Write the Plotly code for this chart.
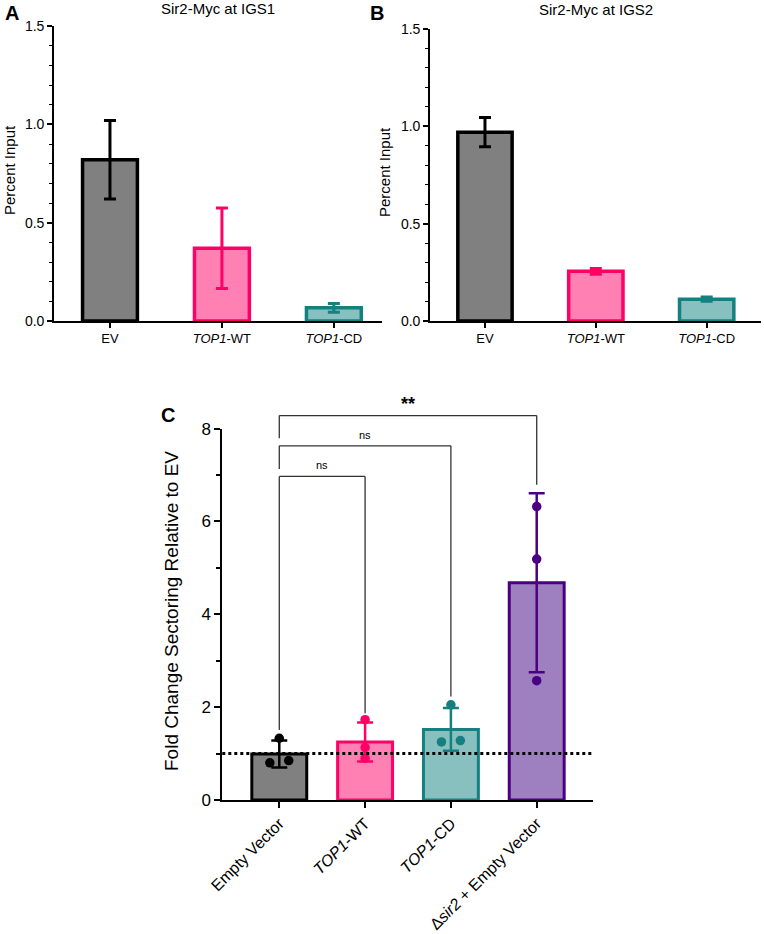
import plotly.graph_objects as go

# ---------------- data ----------------
ab_categories = ["EV", "<i>TOP1</i>-WT", "<i>TOP1</i>-CD"]
igs1_mean = [0.82, 0.37, 0.067]
igs1_err = [0.20, 0.205, 0.022]
igs2_mean = [0.97, 0.255, 0.112]
igs2_err = [0.075, 0.015, 0.011]

c_categories = ["Empty Vector", "<i>TOP1</i>-WT", "<i>TOP1</i>-CD", "Δ<i>sir2</i> + Empty Vector"]
c_mean = [0.99, 1.25, 1.52, 4.68]
c_err = [0.29, 0.42, 0.46, 1.93]
c_points = [[1.33, 0.80, 0.85], [1.73, 1.13, 0.90], [2.05, 1.25, 1.28], [6.32, 5.19, 2.57]]
c_jitter = [[0.0, -0.11, 0.11], [0.0, 0.0, 0.0], [0.0, -0.11, 0.11], [0.0, 0.0, 0.0]]
reference_level = 1.0

# brackets: (from, to, bar height, left-leg bottom, right-leg bottom, label)
brackets = [
    (0, 1, 6.97, 1.51, 1.87, "ns"),
    (0, 2, 7.63, 7.13, 2.23, "ns"),
    (0, 3, 8.28, 7.79, 6.79, "<b>**</b>"),
]

fills = ["#808080", "#FF80B2", "#88C0C0", "#9E80C0"]
edges = ["#000000", "#FF0066", "#15807F", "#4B0082"]

FONT = "Arial, Liberation Sans, sans-serif"
W, H = 764, 934


def px(xp):
    return xp / W


def py(yp):
    return 1 - yp / H


fig = go.Figure()

# panel A and B bars
for means, errs, xa, ya in [(igs1_mean, igs1_err, "x", "y"), (igs2_mean, igs2_err, "x2", "y2")]:
    for i in range(len(ab_categories)):
        fig.add_trace(go.Bar(
            x=[i], y=[means[i]], width=0.49, xaxis=xa, yaxis=ya,
            marker=dict(color=fills[i], line=dict(color=edges[i], width=3.5)),
            error_y=dict(type="data", array=[errs[i]], color=edges[i], thickness=3, width=6),
            showlegend=False,
        ))

# panel C bars
for i in range(len(c_categories)):
    fig.add_trace(go.Bar(
        x=[i], y=[c_mean[i]], width=0.64, xaxis="x3", yaxis="y3",
        marker=dict(color=fills[i], line=dict(color=edges[i], width=3)),
        showlegend=False,
    ))
for i in range(len(c_categories)):
    fig.add_trace(go.Scatter(
        x=[i], y=[c_mean[i]], mode="markers", xaxis="x3", yaxis="y3",
        marker=dict(size=1, color="rgba(0,0,0,0)"),
        error_y=dict(type="data", array=[c_err[i]], color=edges[i], thickness=2.5, width=8),
        showlegend=False, hoverinfo="skip",
    ))
for i in range(len(c_categories)):
    fig.add_trace(go.Scatter(
        x=[i + j for j in c_jitter[i]], y=c_points[i], mode="markers",
        xaxis="x3", yaxis="y3",
        marker=dict(size=9.5, color=edges[i]),
        showlegend=False,
    ))

C_RANGE = [0, 8]


def cdom(v):
    return (v - C_RANGE[0]) / (C_RANGE[1] - C_RANGE[0])


shapes = [
    dict(type="line", xref="x3 domain", yref="y3", x0=0, x1=1,
         y0=reference_level, y1=reference_level,
         line=dict(color="black", width=3, dash="dot"), layer="above"),
]
annotations = []
for a, b, hgt, lb, rb, lab in brackets:
    for x0, x1, y0, y1 in [(a, b, hgt, hgt), (a, a, lb, hgt), (b, b, rb, hgt)]:
        shapes.append(dict(type="line", xref="x3", yref="y3 domain", x0=x0, x1=x1,
                           y0=cdom(y0), y1=cdom(y1), line=dict(color="#333333", width=1.3)))
    annotations.append(dict(x=(a + b) / 2, y=cdom(hgt), xref="x3", yref="y3 domain",
                            text=lab, showarrow=False, xanchor="center", yanchor="bottom",
                            yshift=3 if lab == "ns" else 0,
                            font=dict(family=FONT, size=11 if lab == "ns" else 18, color="black")))


def paper_text(x, y, text, size, angle=0):
    return dict(x=px(x), y=py(y), xref="paper", yref="paper", text=text, textangle=angle,
                xanchor="center", yanchor="middle", showarrow=False,
                font=dict(family=FONT, size=size, color="black"))


# titles & panel labels
annotations += [
    paper_text((54 + 382) / 2, 8.5, "Sir2-Myc at IGS1", 15),
    paper_text((430 + 761) / 2, 9.5, "Sir2-Myc at IGS2", 15),
    paper_text(12, 13, "<b>A</b>", 20),
    paper_text(377, 13, "<b>B</b>", 20),
    paper_text(168, 415, "<b>C</b>", 20),
    paper_text(9, 170, "Percent Input", 15, -90),
    paper_text(384, 172, "Percent Input", 15, -90),
    paper_text(171, 611, "Fold Change Sectoring Relative to EV", 19, -90),
]

axis_common = dict(showline=True, linecolor="black", linewidth=1.6, ticks="outside",
                   tickcolor="black", tickwidth=1.6, showgrid=False, zeroline=False,
                   automargin=False,
                   tickfont=dict(family=FONT, size=13, color="black"))

ab_y = dict(axis_common, range=[0, 1.5], dtick=0.5, tick0=0, tickformat=".1f", ticklen=5,
            tickfont=dict(family=FONT, size=14, color="black"),
            minor=dict(dtick=0.1, ticks="outside", ticklen=3, tickcolor="black", tickwidth=1.2))

fig.update_layout(
    width=W, height=H, margin=dict(l=0, r=0, t=0, b=0, pad=0, autoexpand=False),
    plot_bgcolor="white", paper_bgcolor="white", barmode="overlay",
    xaxis=dict(axis_common, domain=[px(54), px(382)], range=[-0.5, 2.43],
               tickvals=list(range(3)), ticktext=ab_categories, ticklen=5, anchor="y"),
    yaxis=dict(ab_y, domain=[py(321), py(26)], anchor="x"),
    xaxis2=dict(axis_common, domain=[px(430), px(761)], range=[-0.496, 2.49],
                tickvals=list(range(3)), ticktext=ab_categories, ticklen=5, anchor="y2"),
    yaxis2=dict(ab_y, domain=[py(321), py(29)], anchor="x2"),
    xaxis3=dict(axis_common, domain=[px(222.3), px(593)], range=[-0.664, 3.656],
                tickvals=list(range(4)), ticktext=c_categories, ticklen=6, tickangle=-45,
                tickfont=dict(family=FONT, size=16, color="black"), linewidth=2, anchor="y3"),
    yaxis3=dict(axis_common, domain=[py(800), py(428.6)], range=C_RANGE, dtick=2, tick0=0,
                ticklen=6, linewidth=2, tickfont=dict(family=FONT, size=17, color="black"),
                minor=dict(dtick=1, ticks="outside", ticklen=4, tickcolor="black", tickwidth=1.5),
                anchor="x3"),
    shapes=shapes, annotations=annotations,
)

fig.write_html("out.html", post_script="document.body.style.margin='0';document.body.style.overflow='hidden';")
